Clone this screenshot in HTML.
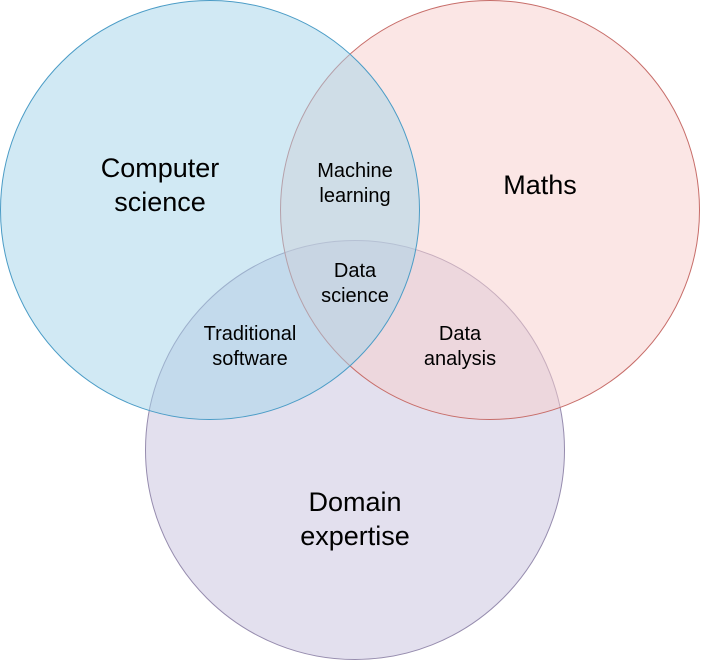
<!DOCTYPE html>
<html><head><meta charset="utf-8"><style>
html,body{margin:0;padding:0;background:#fff;}
svg{display:block;}
text{font-family:"Liberation Sans",Arial,sans-serif;fill:#000;text-anchor:middle;}
</style></head><body>
<svg width="701" height="662" viewBox="0 0 701 662" xmlns="http://www.w3.org/2000/svg">
<circle cx="355" cy="450" r="209.5" fill="#c7c1dd" fill-opacity="0.5" stroke="#968cae" stroke-width="1"/>
<circle cx="490" cy="210" r="209.5" fill="#f8cecc" fill-opacity="0.5" stroke="#c76d69" stroke-width="1"/>
<circle cx="210" cy="210" r="209.5" fill="#a4d3ea" fill-opacity="0.5" stroke="#4b9cc6" stroke-width="1"/>
<text x="160" y="177" font-size="27">Computer</text>
<text x="160" y="211" font-size="27">science</text>
<text x="540" y="194" font-size="27">Maths</text>
<text x="355" y="511" font-size="27">Domain</text>
<text x="355" y="545" font-size="27">expertise</text>
<text x="355" y="177" font-size="20">Machine</text>
<text x="355" y="202" font-size="20">learning</text>
<text x="355" y="277" font-size="20">Data</text>
<text x="355" y="302" font-size="20">science</text>
<text x="250" y="340" font-size="20">Traditional</text>
<text x="250" y="365" font-size="20">software</text>
<text x="460" y="340" font-size="20">Data</text>
<text x="460" y="365" font-size="20">analysis</text>
</svg>
</body></html>
